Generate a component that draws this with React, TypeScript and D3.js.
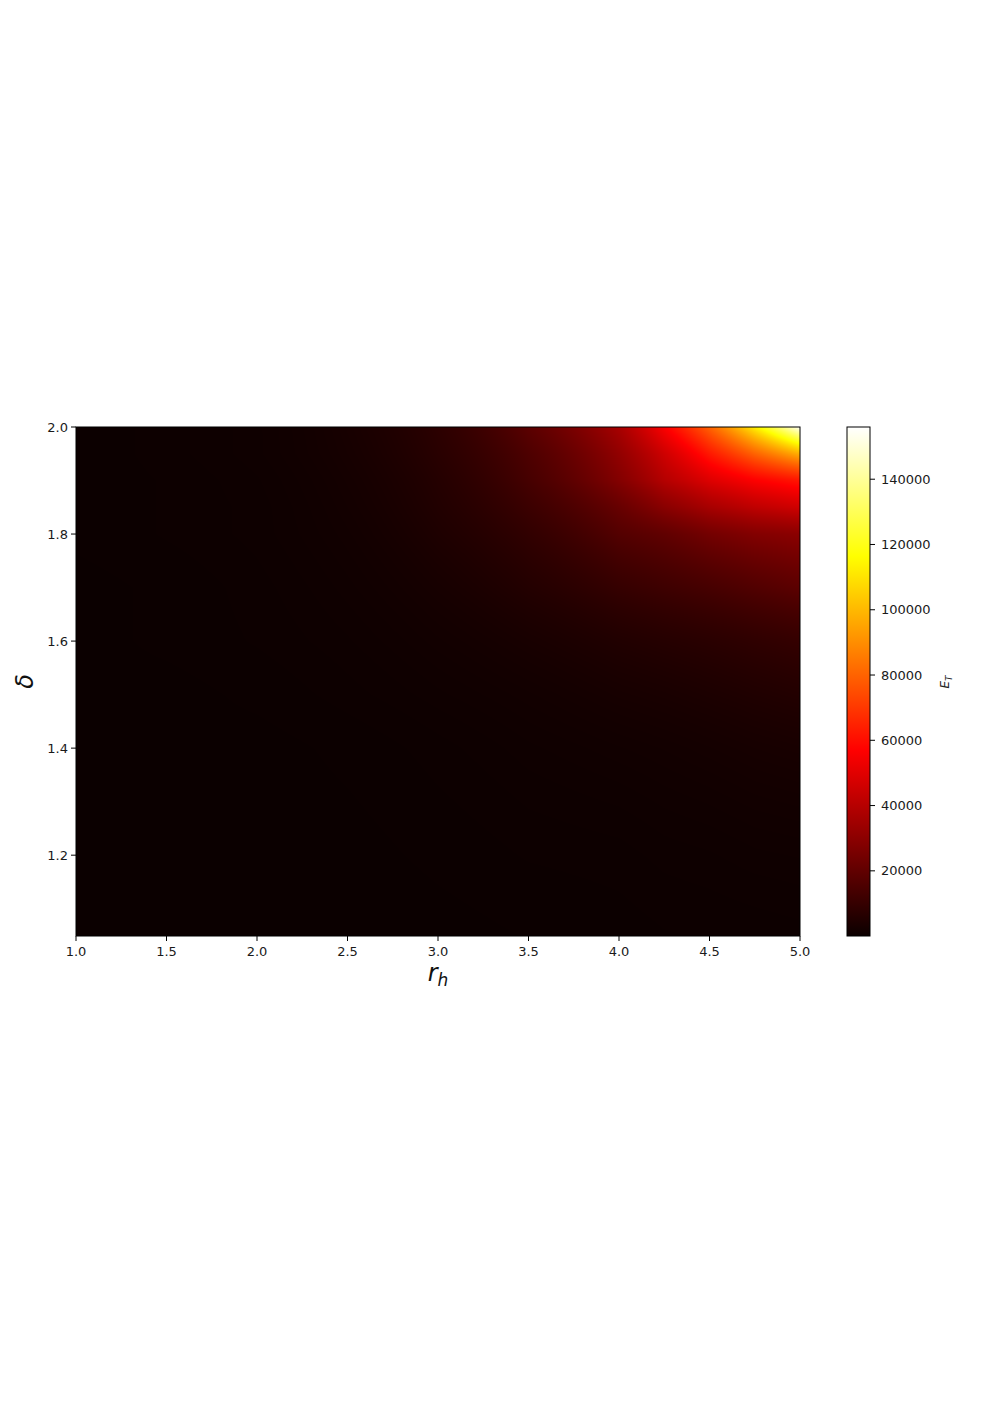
import React, { useMemo } from "react";
import * as d3 from "d3";

// r_h grid (x) and delta grid (y, ascending)
const rhValues = [1.0, 1.5, 2.0, 2.5, 3.0, 3.5, 4.0, 4.25, 4.5, 4.75, 5.0];
const deltaValues = [1.05, 1.2, 1.4, 1.5, 1.6, 1.7, 1.8, 1.85, 1.9, 1.95, 2.0];

// E_T values; rows follow deltaValues, columns follow rhValues
const rowDelta105 = [30, 50, 80, 100, 160, 250, 350, 450, 500, 550, 620];
const rowDelta120 = [50, 80, 120, 160, 300, 500, 600, 800, 900, 1100, 1200];
const rowDelta140 = [80, 160, 160, 300, 600, 1100, 1600, 1900, 2300, 2800, 3200];
const rowDelta150 = [160, 160, 300, 600, 1100, 1800, 2900, 3400, 4100, 4900, 5700];
const rowDelta160 = [160, 300, 500, 900, 1800, 3200, 5200, 6200, 7200, 8500, 9800];
const rowDelta170 = [160, 300, 600, 1300, 2900, 5800, 10000, 12000, 14000, 16500, 19000];
const rowDelta180 = [300, 500, 800, 1800, 4500, 9000, 17000, 20000, 24500, 28000, 30000];
const rowDelta185 = [300, 500, 800, 2100, 5300, 11300, 21500, 29500, 36500, 42000, 46000];
const rowDelta190 = [300, 500, 900, 2400, 6000, 13800, 28000, 39500, 49000, 56500, 62000];
const rowDelta195 = [300, 600, 1100, 2800, 7000, 15600, 31500, 45500, 62500, 80000, 98000];
const rowDelta200 = [300, 600, 1100, 3100, 7800, 18700, 36500, 56000, 80000, 113000, 156000];

const energyGrid = [
  rowDelta105, rowDelta120, rowDelta140, rowDelta150, rowDelta160, rowDelta170,
  rowDelta180, rowDelta185, rowDelta190, rowDelta195, rowDelta200,
];

const xTicks = [1.0, 1.5, 2.0, 2.5, 3.0, 3.5, 4.0, 4.5, 5.0];
const yTicks = [1.2, 1.4, 1.6, 1.8, 2.0];
const cbTicks = [20000, 40000, 60000, 80000, 100000, 120000, 140000];

const V_MIN = 30;
const V_MAX = 156000;

// matplotlib "hot"
const hotR = d3.scaleLinear().domain([0, 0.365079, 1]).range([0.0416, 1, 1]).clamp(true);
const hotG = d3.scaleLinear().domain([0, 0.365079, 0.746032, 1]).range([0, 0, 1, 1]).clamp(true);
const hotB = d3.scaleLinear().domain([0, 0.746032, 1]).range([0, 0, 1]).clamp(true);

const L = 76, R = 800, T = 427, B = 936;
const CBL = 847, CBR = 870;

function interpLog(xv: number, yv: number): number {
  const nx = rhValues.length, ny = deltaValues.length;
  let i = d3.bisectRight(rhValues, xv) - 1;
  i = Math.max(0, Math.min(nx - 2, i));
  let j = d3.bisectRight(deltaValues, yv) - 1;
  j = Math.max(0, Math.min(ny - 2, j));
  const fx = Math.max(0, Math.min(1, (xv - rhValues[i]) / (rhValues[i + 1] - rhValues[i])));
  const fy = Math.max(0, Math.min(1, (yv - deltaValues[j]) / (deltaValues[j + 1] - deltaValues[j])));
  const a = Math.log(energyGrid[j][i]);
  const b = Math.log(energyGrid[j][i + 1]);
  const c = Math.log(energyGrid[j + 1][i]);
  const d = Math.log(energyGrid[j + 1][i + 1]);
  const v = (a * (1 - fx) + b * fx) * (1 - fy) + (c * (1 - fx) + d * fx) * fy;
  return Math.exp(v);
}

export default function App() {
  const x = d3.scaleLinear().domain([1.0, 5.0]).range([L, R]);
  const y = d3.scaleLinear().domain([1.049, 2.0]).range([B, T]);
  const cb = d3.scaleLinear().domain([V_MIN, V_MAX]).range([B, T]);
  const norm = d3.scaleLinear().domain([V_MIN, V_MAX]).range([0, 1]).clamp(true);

  const href = useMemo(() => {
    const W = R - L, H = B - T;
    const canvas = document.createElement("canvas");
    canvas.width = W;
    canvas.height = H;
    const ctx = canvas.getContext("2d");
    if (!ctx) return "";
    const img = ctx.createImageData(W, H);
    for (let py = 0; py < H; py++) {
      const yv = y.invert(T + py + 0.5);
      for (let px = 0; px < W; px++) {
        const xv = x.invert(L + px + 0.5);
        const t = norm(interpLog(xv, yv));
        const k = (py * W + px) * 4;
        img.data[k] = Math.round(hotR(t) * 255);
        img.data[k + 1] = Math.round(hotG(t) * 255);
        img.data[k + 2] = Math.round(hotB(t) * 255);
        img.data[k + 3] = 255;
      }
    }
    ctx.putImageData(img, 0, 0);
    return canvas.toDataURL();
  }, []);

  const font = "DejaVu Sans, sans-serif";
  const stops = [0, 0.365079, 0.746032, 1];

  return (
    <svg width={996} height={1410} style={{ position: "absolute", left: 0, top: 0, background: "#fff" }} fontFamily={font}>
      <defs>
        <linearGradient id="hotgrad" x1="0" y1="1" x2="0" y2="0">
          {stops.map((s) => (
            <stop key={s} offset={s} stopColor={`rgb(${Math.round(hotR(s) * 255)},${Math.round(hotG(s) * 255)},${Math.round(hotB(s) * 255)})`} />
          ))}
        </linearGradient>
      </defs>
      {href && (
        <image href={href} x={L} y={T} width={R - L} height={B - T} preserveAspectRatio="none" />
      )}
      <rect x={L} y={T} width={R - L} height={B - T} fill="none" stroke="#000" strokeWidth={1} />

      {/* x axis */}
      {xTicks.map((v) => (
        <g key={v}>
          <line x1={x(v)} x2={x(v)} y1={B} y2={B + 5} stroke="#000" />
          <text x={x(v)} y={B + 20} textAnchor="middle" fontSize={13} fill="#1a1a1a">{v.toFixed(1)}</text>
        </g>
      ))}
      <text x={(L + R) / 2} y={981} textAnchor="middle" fontSize={24} fontStyle="italic" fill="#111">
        r<tspan fontSize={17} dy={5}>h</tspan>
      </text>

      {/* y axis */}
      {yTicks.map((v) => (
        <g key={v}>
          <line x1={L - 5} x2={L} y1={y(v)} y2={y(v)} stroke="#000" />
          <text x={L - 8} y={y(v) + 4.5} textAnchor="end" fontSize={13} fill="#1a1a1a">{v.toFixed(1)}</text>
        </g>
      ))}
      <text transform={`translate(33,${(T + B) / 2}) rotate(-90)`} textAnchor="middle" fontSize={24} fontStyle="italic" fill="#111">δ</text>

      {/* colorbar */}
      <rect x={CBL} y={T} width={CBR - CBL} height={B - T} fill="url(#hotgrad)" stroke="#000" strokeWidth={1} />
      {cbTicks.map((v) => (
        <g key={v}>
          <line x1={CBR} x2={CBR + 5} y1={cb(v)} y2={cb(v)} stroke="#000" />
          <text x={CBR + 11} y={cb(v) + 4.5} fontSize={13} fill="#1a1a1a">{v}</text>
        </g>
      ))}
      <text transform={`translate(949,682) rotate(-90)`} textAnchor="middle" fontSize={12} fontStyle="italic" fill="#222">
        E<tspan fontSize={9} dy={3}>T</tspan>
      </text>
    </svg>
  );
}
